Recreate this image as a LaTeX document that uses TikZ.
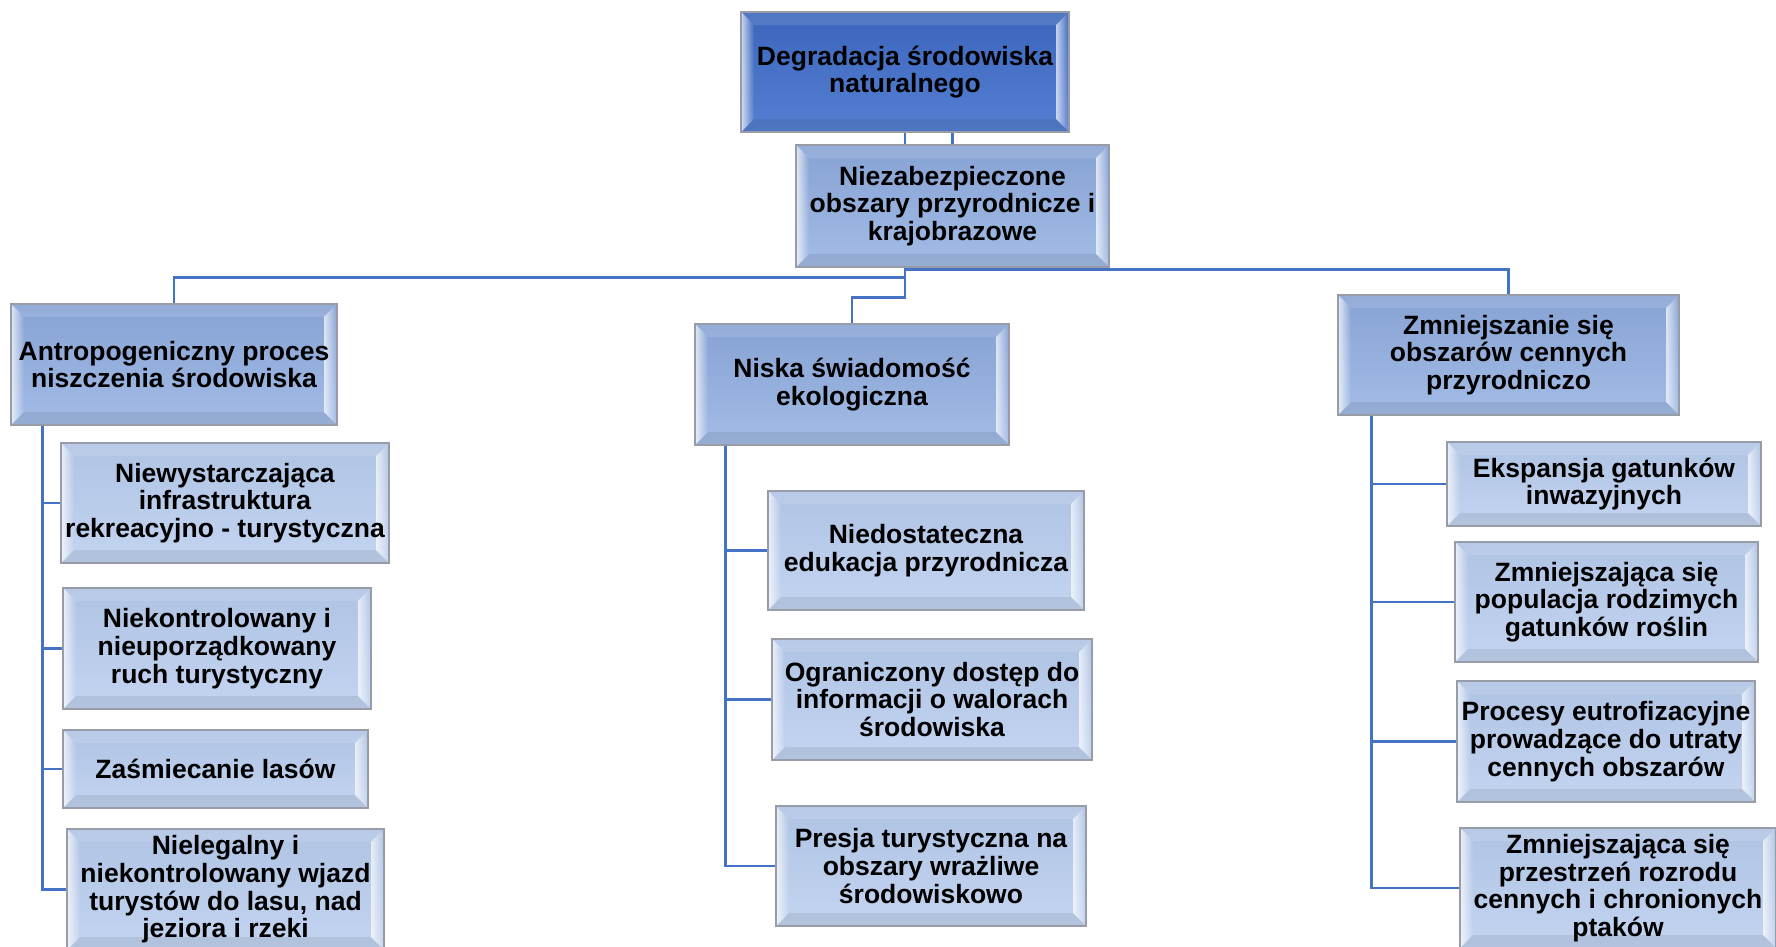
\documentclass[tikz,border=0pt]{standalone}
\usepackage{fontspec}
\setmainfont{Liberation Sans}
\usetikzlibrary{positioning, calc, fadings}
\definecolor{rootblue}{HTML}{3F6ECC}
\definecolor{midblue}{HTML}{8FADE1}
\definecolor{leafblue}{HTML}{B6CBED}
\definecolor{linkblue}{HTML}{4472C4}
\definecolor{rimgray}{HTML}{979CA6}

\tikzset{
  bevel/.style={path picture={
    \coordinate (nw) at (path picture bounding box.north west);
    \coordinate (ne) at (path picture bounding box.north east);
    \coordinate (sw) at (path picture bounding box.south west);
    \coordinate (se) at (path picture bounding box.south east);
    \coordinate (inw) at ([shift={(13pt,-13pt)}]nw);
    \coordinate (ine) at ([shift={(-13pt,-13pt)}]ne);
    \coordinate (isw) at ([shift={(13pt,13pt)}]sw);
    \coordinate (ise) at ([shift={(-13pt,13pt)}]se);
    \fill[white, opacity=0.75, path fading=east] (nw) -- (inw) -- (isw) -- (sw) -- cycle;
    \fill[white, opacity=0.12] (nw) -- (ne) -- (ine) -- (inw) -- cycle;
    \fill[white, opacity=0.7, path fading=east] (ne) -- (se) -- (ise) -- (ine) -- cycle;
    \fill[black, opacity=0.08] (sw) -- (isw) -- (ise) -- (se) -- cycle;
  }},
}

\begin{document}
\begin{tikzpicture}[
  x=1pt, y=-1pt,
  every node/.style={font=\bfseries\fontsize{26.5}{27.7}\selectfont},
  box/.style={rectangle, draw=rimgray, line width=1.2pt, align=center, inner sep=1pt, bevel},
  root/.style={box, top color=rootblue!92!black, bottom color=rootblue!88!white},
  cause/.style={box, top color=midblue!94!black, bottom color=midblue!82!white},
  leaf/.style={box, top color=leafblue!96!black, bottom color=leafblue!82!white},
  conn/.style={draw=linkblue, line width=2.8pt}
]
\useasboundingbox (0,0) rectangle (1776,946);

% === TOP ===
\node[root, minimum width=328pt, minimum height=120pt] (degr) at (905,72)
  {Degradacja środowiska\\naturalnego};
\node[cause, minimum width=313pt, minimum height=122pt] (niezab) at (952.5,206)
  {Niezabezpieczone\\obszary przyrodnicze i\\krajobrazowe};

% === LEVEL 2 ===
\node[cause, minimum width=326pt, minimum height=121pt] (antro) at (174,364.5)
  {Antropogeniczny proces\\niszczenia środowiska};
\node[cause, minimum width=314pt, minimum height=121pt] (niska) at (852,384.5)
  {Niska świadomość\\ekologiczna};
\node[cause, minimum width=341pt, minimum height=120pt] (zmniej) at (1508.5,355)
  {Zmniejszanie się\\obszarów cennych\\przyrodniczo};

% === LEFT COLUMN ===
\node[leaf, minimum width=328pt, minimum height=120pt] (infra) at (225,503)
  {Niewystarczająca\\infrastruktura\\rekreacyjno - turystyczna};
\node[leaf, minimum width=308pt, minimum height=121pt] (ruch) at (217,648.5)
  {Niekontrolowany i\\nieuporządkowany\\ruch turystyczny};
\node[leaf, minimum width=305pt, minimum height=78pt] (smieci) at (215.5,769)
  {Zaśmiecanie lasów};
\node[leaf, minimum width=317pt, minimum height=121pt] (wjazd) at (225.5,889.5)
  {Nielegalny i\\niekontrolowany wjazd\\turystów do lasu, nad\\jeziora i rzeki};

% === MIDDLE COLUMN ===
\node[leaf, minimum width=316pt, minimum height=119pt] (eduk) at (926,550.5)
  {Niedostateczna\\edukacja przyrodnicza};
\node[leaf, minimum width=320pt, minimum height=121pt] (info) at (932,699.5)
  {Ograniczony dostęp do\\informacji o walorach\\środowiska};
\node[leaf, minimum width=310pt, minimum height=120pt] (presja) at (931,866)
  {Presja turystyczna na\\obszary wrażliwe\\środowiskowo};

% === RIGHT COLUMN ===
\node[leaf, minimum width=314pt, minimum height=84pt] (inwaz) at (1604,484)
  {Ekspansja gatunków\\inwazyjnych};
\node[leaf, minimum width=303pt, minimum height=120pt] (rosliny) at (1606.5,602)
  {Zmniejszająca się\\populacja rodzimych\\gatunków roślin};
\node[leaf, minimum width=298pt, minimum height=121pt] (eutrof) at (1606,741.5)
  {Procesy eutrofizacyjne\\prowadzące do utraty\\cennych obszarów};
\node[leaf, minimum width=316pt, minimum height=120pt] (ptaki) at (1618,888)
  {Zmniejszająca się\\przestrzeń rozrodu\\cennych i chronionych\\ptaków};

% === CONNECTORS ===
\draw[conn] (degr.south) -- (degr.south |- niezab.north);
\draw[conn] (niezab.north) -- (niezab.north |- degr.south);

\coordinate (hub) at (degr.south |- niezab.south);
\draw[conn] (hub) -- ++(0,10) -| (antro.north);
\draw[conn] (hub) -- ++(0,2) -| (zmniej.north);
\draw[conn] (hub) -- ++(0,30) -| (niska.north);

% spines
\coordinate (lspine) at ([xshift=32pt]antro.south west);
\coordinate (mspine) at ([xshift=31pt]niska.south west);
\coordinate (rspine) at ([xshift=34pt]zmniej.south west);

\foreach \kid in {infra, ruch, smieci, wjazd}
  \draw[conn] (lspine) |- (\kid.west);
\foreach \kid in {eduk, info, presja}
  \draw[conn] (mspine) |- (\kid.west);
\foreach \kid in {inwaz, rosliny, eutrof, ptaki}
  \draw[conn] (rspine) |- (\kid.west);

\end{tikzpicture}
\end{document}
